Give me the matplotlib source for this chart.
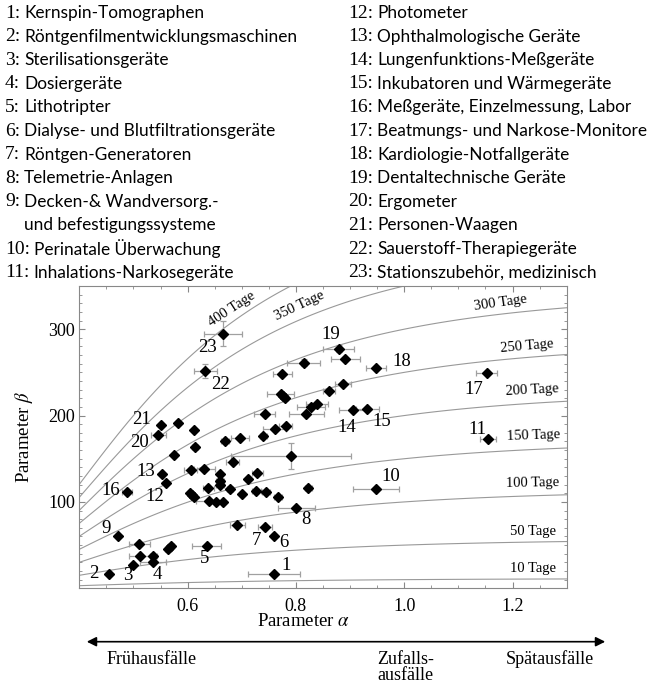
import math
import numpy as np
import matplotlib
matplotlib.use('Agg')
import matplotlib.pyplot as plt
from matplotlib.patches import FancyArrowPatch
from matplotlib.ticker import MultipleLocator

plt.rcParams['mathtext.fontset'] = 'stix'
SERIF = 'Liberation Serif'
SANS = 'Lato'

# device names (legend at the top)
names = [
    'Kernspin-Tomographen', 'Röntgenfilmentwicklungsmaschinen',
    'Sterilisationsgeräte', 'Dosiergeräte', 'Lithotripter',
    'Dialyse- und Blutfiltrationsgeräte', 'Röntgen-Generatoren',
    'Telemetrie-Anlagen', 'Decken-& Wandversorg.-\nund befestigungssysteme',
    'Perinatale Überwachung', 'Inhalations-Narkosegeräte',
    'Photometer', 'Ophthalmologische Geräte', 'Lungenfunktions-Meßgeräte',
    'Inkubatoren und Wärmegeräte', 'Meßgeräte, Einzelmessung, Labor',
    'Beatmungs- und Narkose-Monitore', 'Kardiologie-Notfallgeräte',
    'Dentaltechnische Geräte', 'Ergometer', 'Personen-Waagen',
    'Sauerstoff-Therapiegeräte', 'Stationszubehör, medizinisch',
]

# Weibull parameters; first 23 entries are the numbered devices 1..23
alpha = [0.759, 0.455, 0.499, 0.536, 0.635, 0.759, 0.743, 0.801, 0.472, 0.948,
         1.155, 0.561, 0.552, 0.905, 0.932, 0.488, 1.152, 0.948, 0.879, 0.546,
         0.550, 0.633, 0.666,
         0.513, 0.537, 0.511, 0.564, 0.569, 0.692, 0.823, 0.640, 0.652, 0.665,
         0.605, 0.609, 0.612, 0.638, 0.660, 0.660, 0.678, 0.700, 0.727, 0.745,
         0.767, 0.712, 0.729, 0.660, 0.631, 0.606, 0.683, 0.791, 0.575, 0.582,
         0.612, 0.614, 0.669, 0.697, 0.740, 0.761, 0.781, 0.742, 0.819, 0.828,
         0.839, 0.772, 0.777, 0.780, 0.861, 0.887, 0.775, 0.814, 0.891]
beta = [16.5, 17, 27, 30, 49.5, 60.4, 70.9, 93.5, 60, 114.4,
        172.7, 121.4, 132.3, 206.1, 207.7, 111.7, 249.6, 254.7, 277.6, 177.7,
        188.6, 251.5, 295,
        37.5, 37, 51, 45, 49, 72.8, 116.3, 100.8, 100, 100,
        110, 108, 106, 115.8, 120, 124, 114.5, 109.5, 112.8, 111.8,
        105.8, 126, 134, 132.3, 138.5, 137.3, 145.9, 153.5, 154, 191.4,
        183.2, 163.8, 170.7, 173.9, 175.8, 184.4, 188.2, 202.2, 202.2, 209.6,
        213.5, 225.5, 222.4, 220.5, 228.2, 236.8, 247.7, 261.3, 265.2]
alpha_err = [0.048, 0, 0, 0.024, 0.027, 0, 0.013, 0.035, 0, 0.043,
             0.015, 0, 0, 0.025, 0.021, 0.009, 0.020, 0.018, 0.029, 0.014,
             0, 0.021, 0.035,
             0.022, 0.006, 0.020, 0.005, 0.005, 0.014, 0.006, 0.025, 0, 0,
             0.004, 0, 0, 0.010, 0.008, 0.008, 0.006, 0, 0.008, 0.008,
             0.008, 0, 0.011, 0, 0.020, 0.012, 0.012, 0.110, 0, 0,
             0, 0.005, 0.008, 0.016, 0.006, 0.021, 0.012, 0.020, 0.032, 0.026,
             0.021, 0.025, 0.005, 0.005, 0.011, 0.015, 0.017, 0.030, 0.027]
beta_err = [0] * len(beta)
beta_err[18] = 4
beta_err[21] = 8.5
beta_err[22] = 14
beta_err[50] = 15
beta_err[70] = 4

# label offsets in pixels for devices 1..23
label_dx = [12, -15, -5, 4, -2, 10, -9, 9, -12, 15,
            -11, -12, -16, -6, 14, -16, -13, 26, -8, -19,
            -19, 15, -16]
label_dy = [9, 0, -11, -12, -13, -6, -13, -12, 8, 13,
            10, -13, 3, -17, -13, 1, -17, 7, 14, -8,
            6, -13, -14]

# iso-lines of mean lifetime (days): beta = T / Gamma(1 + 1/alpha)
tage = [10, 50, 100, 150, 200, 250, 300, 350, 400]
tage_lab_a = [1.237, 1.237, 1.236, 1.238, 1.237, 1.226, 1.177, 0.807, 0.682]
tage_lab_b = [23.5, 66.2, 121.4, 176.6, 230, 280.6, 331, 327.3, 323.4]
tage_rot = [0, 0, 1, 2, 3, 5, 8, 25, 33]

fig = plt.figure(figsize=(6.66, 6.84), dpi=100)
W, H = 666, 684
ax = fig.add_axes([79.3 / W, 1 - 588.3 / H, 487.4 / W, 302.3 / H])

a_grid = np.linspace(0.4, 1.3, 91)
g = np.array([math.gamma(1 + 1 / a) for a in a_grid])
for T in tage:
    ax.plot(a_grid, T / g, color='#999999', lw=0.8, zorder=1)
for T, la, lb, rot in zip(tage, tage_lab_a, tage_lab_b, tage_rot):
    ax.text(la, lb, f'{T} Tage', family=SERIF, fontsize=10.5, rotation=rot,
            ha='center', va='center', rotation_mode='anchor', zorder=4)

ax.errorbar(alpha, beta, xerr=alpha_err, yerr=beta_err, fmt='none',
            ecolor='#a0a0a0', elinewidth=0.9, capsize=2.5, capthick=0.9, zorder=2)
ax.plot(alpha, beta, 'kD', markersize=5.3, zorder=3)

for i in range(23):
    ax.annotate(str(i + 1), (alpha[i], beta[i]), xytext=(label_dx[i], label_dy[i]),
                textcoords='offset pixels', ha='center', va='center',
                family=SERIF, fontsize=13.5, zorder=4)

ax.set_xlim(0.4, 1.3)
ax.set_ylim(0, 350)
ax.xaxis.set_minor_locator(MultipleLocator(0.05))
ax.yaxis.set_minor_locator(MultipleLocator(10))
ax.set_xticks([0.6, 0.8, 1.0, 1.2])
ax.set_xticklabels(['0.6', '0.8', '1.0', '1.2'])
ax.set_yticks([100, 200, 300])
ax.tick_params(which='both', direction='in', top=True, right=True,
               color='#888888', labelsize=13)
ax.tick_params(which='major', length=4)
ax.tick_params(which='minor', length=2.5)
ax.tick_params(axis='x', pad=7)
ax.tick_params(axis='y', pad=3)
for lab in ax.get_xticklabels() + ax.get_yticklabels():
    lab.set_family(SERIF)
for s in ax.spines.values():
    s.set_color('#888888')
    s.set_linewidth(0.8)

fig.text(303.5 / W, 1 - 622 / H, r'Parameter $\alpha$', family=SERIF,
         fontsize=13.5, ha='center', va='center')
fig.text(24 / W, 1 - 437 / H, r'Parameter $\beta$', family=SERIF,
         fontsize=13.5, ha='center', va='center', rotation=90)

# legend of device names, number in serif, name in sans
fig.canvas.draw()
renderer = fig.canvas.get_renderer()
row = 23.6
for i, name in enumerate(names):
    col = 0 if i < 11 else 1
    x0 = 5 if col == 0 else 348
    r = i + (1 if 8 < i < 11 else 0) if col == 0 else i - 11
    y = 13 + r * row
    t = fig.text(x0 / W, 1 - y / H, f'{i + 1}:', family=SERIF, fontsize=14,
                 ha='left', va='center')
    x1 = t.get_window_extent(renderer).x1
    lines = name.split('\n')
    for k, line in enumerate(lines):
        fig.text((x1 + 4) / W, 1 - (y + k * row) / H, line, family=SANS,
                 fontsize=12.4, ha='left', va='center')

# early / random / late failures arrow
arrow = FancyArrowPatch((84 / W, 1 - 641.7 / H), (608 / W, 1 - 641.7 / H),
                        transform=fig.transFigure, arrowstyle='<|-|>',
                        mutation_scale=14, color='black', lw=1.2)
fig.add_artist(arrow)
fig.text(152 / W, 1 - 659 / H, 'Frühausfälle', family=SERIF, fontsize=13,
         ha='center', va='center')
fig.text(377 / W, 1 - 659 / H, 'Zufalls-', family=SERIF, fontsize=13,
         ha='left', va='center')
fig.text(377 / W, 1 - 675.5 / H, 'ausfälle', family=SERIF, fontsize=13,
         ha='left', va='center')
fig.text(549.5 / W, 1 - 659 / H, 'Spätausfälle', family=SERIF, fontsize=13,
         ha='center', va='center')

fig.savefig('out.png', dpi=100)
